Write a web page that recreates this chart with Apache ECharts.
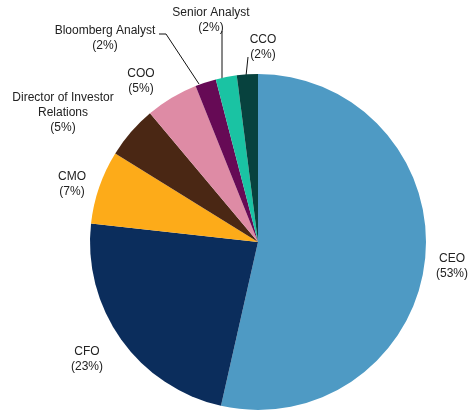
<!DOCTYPE html>
<html>
<head>
<meta charset="utf-8">
<script src="https://cdn.jsdelivr.net/npm/echarts@6/dist/echarts.min.js"></script>
<style>
  html, body { margin: 0; padding: 0; background: #fff; }
  #chart { width: 474px; height: 412px; }
</style>
</head>
<body>
<div id="chart"></div>
<script>
// data
const categories = ['CEO', 'CFO', 'CMO', 'Director of Investor Relations', 'COO', 'Bloomberg Analyst', 'Senior Analyst', 'CCO'];
const shares = [53, 23, 7, 5, 5, 2, 2, 2];

// styles / layout
const palette = ['#4e9ac4', '#0b2d5c', '#fdab19', '#4a2714', '#de8ba5', '#660a55', '#1ac3a3', '#07423e'];
const labelPos = [[452, 266], [87, 359], [72, 184], [63, 113], [141, 81], [105, 38], [211, 20], [263, 47]];
const leaderLines = {
    5: [[159, 34], [166, 34], [199, 84]],
    6: [[222, 31], [222, 79]],
    7: [[248, 57], [246, 76]]
};

const chart = echarts.init(document.getElementById('chart'));

const option = {
    animation: false,
    series: [{
        type: 'pie',
        center: [258, 242],
        radius: 168,
        startAngle: 90,
        clockwise: true,
        avoidLabelOverlap: false,
        data: categories.map((name, i) => ({
            name: name,
            value: shares[i],
            itemStyle: { color: palette[i] },
            labelLine: { show: !!leaderLines[i] }
        })),
        label: {
            show: true,
            position: 'outside',
            color: '#222',
            fontFamily: 'Liberation Sans, Arial, sans-serif',
            fontSize: 12,
            lineHeight: 15,
            formatter: p => p.name.replace('Investor ', 'Investor\n') + '\n(' + p.value + '%)'
        },
        labelLine: {
            lineStyle: { color: '#111', width: 1 }
        },
        labelLayout: params => {
            const i = params.dataIndex;
            const res = {
                x: labelPos[i][0],
                y: labelPos[i][1],
                align: 'center',
                verticalAlign: 'middle'
            };
            if (leaderLines[i]) res.labelLinePoints = leaderLines[i];
            return res;
        }
    }]
};

chart.setOption(option);
</script>
</body>
</html>
